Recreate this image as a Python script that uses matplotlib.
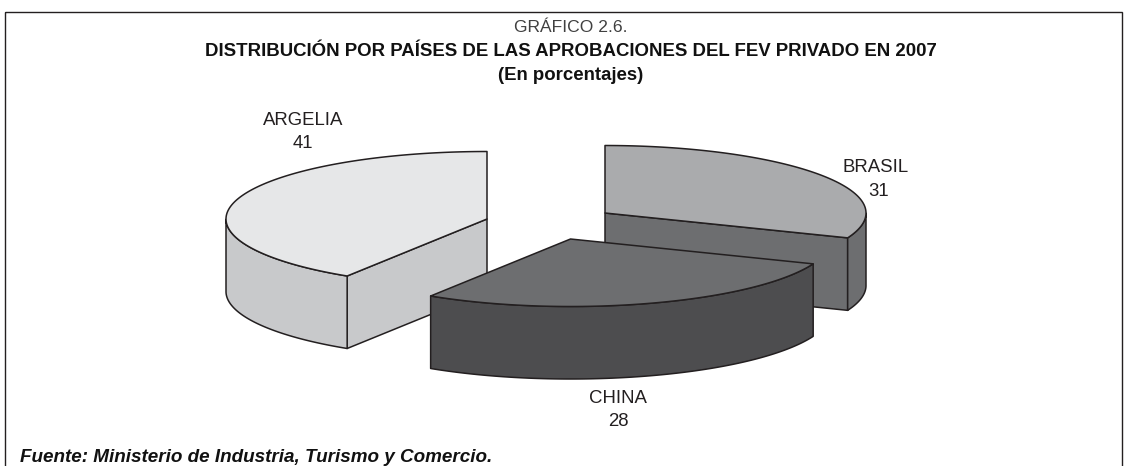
import numpy as np
import matplotlib
matplotlib.use("Agg")
import matplotlib.pyplot as plt
from matplotlib.patches import Polygon, Rectangle

countries = ["BRASIL", "CHINA", "ARGELIA"]
shares = [31, 28, 41]
title_lines = ["GRÁFICO 2.6.",
               "DISTRIBUCIÓN POR PAÍSES DE LAS APROBACIONES DEL FEV PRIVADO EN 2007",
               "(En porcentajes)"]
source = "Fuente: Ministerio de Industria, Turismo y Comercio."

plt.rcParams["font.family"] = ["Liberation Sans", "DejaVu Sans"]
W, H = 1128, 466
fig = plt.figure(figsize=(W / 100, H / 100), dpi=100)
ax = fig.add_axes([0, 0, 1, 1])
ax.set_xlim(0, W)
ax.set_ylim(H, 0)
ax.axis("off")

A, B, DEPTH = 261, 67.5, 72.5
apex = {"BRASIL": (605, 213), "CHINA": (570.5, 239), "ARGELIA": (487, 219)}
top_col = {"BRASIL": "#aaabad", "CHINA": "#6d6e70", "ARGELIA": "#e6e7e8"}
side_col = {"BRASIL": "#6d6e70", "CHINA": "#4d4d4f", "ARGELIA": "#c8c9cb"}
EDGE = "#231f20"
LW = 1.1

fracs = np.array(shares) / sum(shares) * 2 * np.pi
starts = np.concatenate([[0], np.cumsum(fracs)[:-1]])
span = {c: (s, s + f) for c, s, f in zip(countries, starts, fracs)}


def rim(c, t):
    cx, cy = apex[c]
    return np.column_stack([cx + A * np.sin(t), cy - B * np.cos(t)])


def wall(pts, c):
    low = pts + [0, DEPTH]
    ax.add_patch(Polygon(np.vstack([pts, low[::-1]]), closed=True, fc=side_col[c],
                         ec=EDGE, lw=LW, joinstyle="round"))


for c in ["ARGELIA", "BRASIL", "CHINA"]:
    t0, t1 = span[c]
    t = np.linspace(t0, t1, 240)
    arc = rim(c, t)
    cx, cy = apex[c]
    if c == "ARGELIA":
        wall(np.array([arc[0], [cx, cy]]), c)
    if c == "BRASIL":
        wall(np.array([[cx, cy], arc[-1]]), c)
    vis = (np.cos(t) <= 0)
    if vis.any():
        wall(arc[vis], c)
    ax.add_patch(Polygon(np.vstack([[cx, cy], arc]), closed=True, fc=top_col[c],
                         ec=EDGE, lw=LW, joinstyle="round"))

name_pos = {"ARGELIA": (303, 125), "BRASIL": (876, 172.5), "CHINA": (617.5, 403)}
value_pos = {"ARGELIA": (303, 148.5), "BRASIL": (879, 196), "CHINA": (618, 426.5)}
for c, v in zip(countries, shares):
    ax.text(*name_pos[c], c, ha="center", va="baseline", fontsize=13.4, color="#231f20")
    ax.text(*value_pos[c], str(v), ha="center", va="baseline", fontsize=13.4, color="#231f20")

ax.add_patch(Rectangle((5, 12), 1117, 470, fc="none", ec="#231f20", lw=1.0))
ax.text(571, 32, title_lines[0], ha="center", va="baseline", fontsize=12.6, color="#404040")
ax.text(570.5, 56.5, title_lines[1], ha="center", va="baseline", fontsize=13.45, fontweight="bold", color="#111111")
ax.text(570.5, 80.5, title_lines[2], ha="center", va="baseline", fontsize=13.45, fontweight="bold", color="#111111")
ax.text(20.5, 462, source, ha="left", va="baseline", fontsize=13.55, fontweight="bold", fontstyle="italic", color="#111111")

fig.savefig("out.png", dpi=100)
